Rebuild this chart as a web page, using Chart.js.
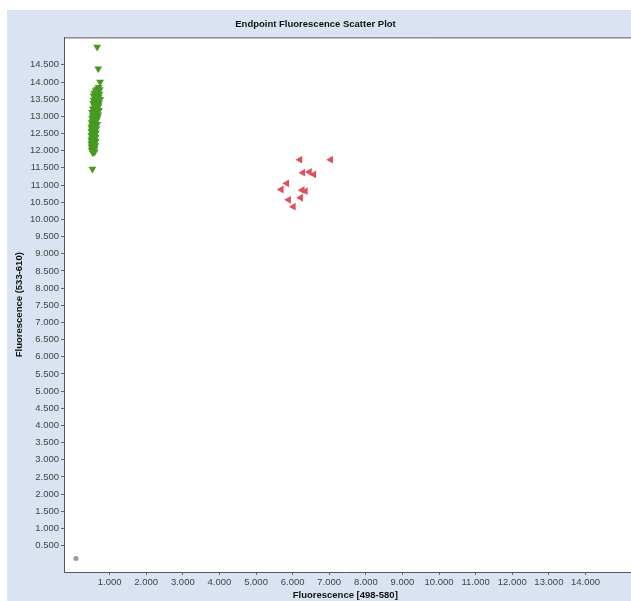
<!DOCTYPE html>
<html>
<head>
<meta charset="utf-8">
<script src="https://cdn.jsdelivr.net/npm/chart.js@4.4.1/dist/chart.umd.min.js"></script>
<style>
  html, body { margin:0; padding:0; background:#fff; }
  #wrap { width:631px; height:601px; position:relative; }
</style>
</head>
<body>
<div id="wrap"><canvas id="scatter" width="631" height="601"></canvas></div>
<script>
// ── Endpoint fluorescence scatter ──
const chartTitle = 'Endpoint Fluorescence Scatter Plot';
const xTitle = 'Fluorescence [498-580]';
const yTitle = 'Fluorescence (533-610)';

const xTickValues = [1000, 2000, 3000, 4000, 5000, 6000, 7000, 8000, 9000, 10000, 11000, 12000, 13000, 14000];
const yTickValues = [500, 1000, 1500, 2000, 2500, 3000, 3500, 4000, 4500, 5000, 5500, 6000, 6500, 7000,
  7500, 8000, 8500, 9000, 9500, 10000, 10500, 11000, 11500, 12000, 12500, 13000, 13500, 14000, 14500];

// green cluster (▼)
const greenX = [660, 690, 740, 530,
  700, 660, 730, 620, 690, 580, 720, 650, 560, 700, 610, 740, 560, 670, 600, 710, 550, 640, 700, 580,
  680, 600, 540, 650, 710, 590, 520, 640, 570, 690, 540, 620, 670, 520, 580, 650, 540, 610, 510, 590,
  660, 530, 620, 500, 580, 640, 520, 600, 500, 560, 630, 530, 590, 500, 560, 620, 520, 590, 500, 560,
  610, 520, 580, 500, 550, 610, 510, 570, 520, 580, 510, 570, 540,
  640, 600, 660, 620, 580, 630, 560, 610, 570, 600, 550, 590, 560, 620, 540, 580, 550, 590, 530, 560];
const greenY = [15020, 14390, 14000, 11470,
  13850, 13800, 13780, 13750, 13700, 13680, 13650, 13620, 13600, 13560, 13530, 13500, 13480, 13450, 13420, 13400, 13380, 13350, 13320, 13300,
  13270, 13240, 13220, 13200, 13180, 13150, 13120, 13100, 13070, 13050, 13020, 13000, 12970, 12950, 12920, 12900, 12870, 12850, 12820, 12800,
  12770, 12750, 12720, 12700, 12670, 12650, 12620, 12600, 12570, 12550, 12520, 12500, 12470, 12450, 12420, 12400, 12370, 12350, 12320, 12300,
  12270, 12250, 12220, 12200, 12170, 12150, 12120, 12100, 12070, 12040, 12010, 11980, 11940,
  13720, 13580, 13460, 13330, 13210, 13080, 12980, 12880, 12760, 12660, 12560, 12460, 12380, 12280, 12180, 12080, 12020, 11960, 12240, 12540];

// red cluster (◄)
const redX = [6200, 7040, 6280, 6460, 6580, 5840, 5690, 6260, 6350, 5890, 6220, 6020];
const redY = [11740, 11740, 11360, 11380, 11310, 11050, 10870, 10850, 10820, 10570, 10630, 10370];

// no-template control
const grayX = [80];
const grayY = [120];

function toPoints(xs, ys) { return xs.map((x, i) => ({ x, y: ys[i] })); }
function fmt(n) { return Math.floor(n / 1000) + '.' + String(n % 1000).padStart(3, '0'); }

// blue panel, white plot area, border running off the right edge
const frame = {
  id: 'frame',
  beforeDraw(chart) {
    const { ctx, chartArea: a } = chart;
    ctx.save();
    ctx.fillStyle = '#ffffff';
    ctx.fillRect(0, 0, chart.width, chart.height);
    ctx.fillStyle = '#d9e3f1';
    ctx.fillRect(7, 10, chart.width - 7, chart.height - 10);
    ctx.fillStyle = '#ffffff';
    ctx.fillRect(a.left, a.top, chart.width - a.left, a.bottom - a.top);
    ctx.strokeStyle = '#555';
    ctx.lineWidth = 1;
    ctx.beginPath();
    ctx.moveTo(chart.width, a.top + 0.5);
    ctx.lineTo(a.left + 0.5, a.top + 0.5);
    ctx.moveTo(a.right, a.bottom + 0.5);
    ctx.lineTo(chart.width, a.bottom + 0.5);
    ctx.stroke();
    ctx.restore();
  }
};

const tickFont = { family: "'Liberation Sans', Arial, sans-serif", size: 9.5 };
const titleFont = { family: "'Liberation Sans', Arial, sans-serif", size: 9.5, weight: 'bold' };

new Chart(document.getElementById('scatter').getContext('2d'), {
  type: 'scatter',
  data: {
    datasets: [
      { label: 'FAM', data: toPoints(greenX, greenY), pointStyle: 'triangle', rotation: 180,
        pointRadius: 4.5, backgroundColor: '#469a22', borderColor: '#469a22', borderWidth: 0 },
      { label: 'VIC', data: toPoints(redX, redY), pointStyle: 'triangle', rotation: -90,
        pointRadius: 4.5, backgroundColor: '#e0505c', borderColor: '#e0505c', borderWidth: 0 },
      { label: 'NTC', data: toPoints(grayX, grayY), pointStyle: 'circle',
        pointRadius: 2.5, backgroundColor: '#9a9a9a', borderColor: '#9a9a9a', borderWidth: 0 }
    ]
  },
  options: {
    responsive: false,
    animation: false,
    layout: { padding: 0 },
    plugins: {
      legend: { display: false },
      tooltip: { enabled: false },
      title: { display: true, text: chartTitle, color: '#111', font: titleFont,
        padding: { top: 19, bottom: 7 } }
    },
    scales: {
      x: {
        type: 'linear', min: -246, max: 15120,
        afterBuildTicks: s => { s.ticks = xTickValues.map(v => ({ value: v })); },
        afterFit: s => { s.height = 29; },
        grid: { drawOnChartArea: false, tickLength: 3, color: '#666' },
        border: { color: '#555', width: 1 },
        ticks: { callback: v => fmt(v), color: '#444', font: tickFont, padding: 2, maxRotation: 0, autoSkip: false },
        title: { display: true, text: xTitle, color: '#111', font: titleFont, padding: { top: 0, bottom: 0 } }
      },
      y: {
        type: 'linear', min: -270, max: 15300,
        afterBuildTicks: s => { s.ticks = yTickValues.map(v => ({ value: v })); },
        afterFit: s => { s.width = 64; },
        grid: { drawOnChartArea: false, tickLength: 3, color: '#666' },
        border: { color: '#555', width: 1 },
        ticks: { callback: v => fmt(v), color: '#444', font: tickFont, padding: 2, autoSkip: false },
        title: { display: true, text: yTitle, color: '#111', font: titleFont, padding: { top: 14, bottom: 0 } }
      }
    }
  },
  plugins: [frame]
});
</script>
</body>
</html>
